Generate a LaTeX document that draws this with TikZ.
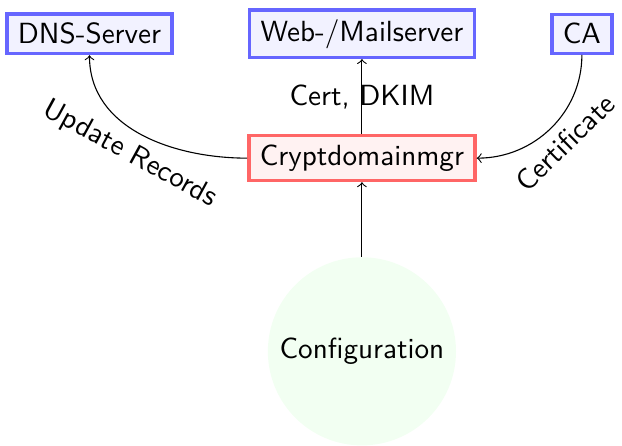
\documentclass[tikz,border=0pt]{standalone}
\usepackage{amsmath,amssymb}
\usepackage{tikz}
\usetikzlibrary{matrix}
\renewcommand{\familydefault}{\sfdefault}

\begin{document}
\begin{tikzpicture}[
		every node/.style={font=\fontsize{10.6}{12.7}\selectfont},
		server/.style={draw=blue!60,fill=blue!5,very thick,inner xsep=4pt,inner ysep=3.3pt},
		tool/.style={draw=red!60,fill=red!5,very thick,inner xsep=4pt,inner ysep=3.3pt},
		config/.style={circle,fill=green!5,minimum size=2.4cm}]
		\matrix(m)[matrix of nodes,column sep=0.94cm,row sep=0.96cm,nodes={anchor=center}]{
			|[server]| DNS-Server & |[server]| Web-/Mailserver & |[server]| CA \\
			& |[tool]| Cryptdomainmgr & \\
			& |[config]| Configuration & \\
		};
		
		\draw[->]
		(m-3-2)edge(m-2-2)
		(m-2-2)edge node{Cert, DKIM}(m-1-2)
		(m-2-2)edge[out=180,in=-90] node[sloped,below]{Update Records}(m-1-1)
		(m-1-3)edge[out=-90,in=0] node[sloped,below]{Certificate}(m-2-2);
		
		\pgfresetboundingbox
		\path[use as bounding box] (m-3-2.south) ++(-4.626,0) rectangle ++(7.95,5.70);
		\end{tikzpicture}
\end{document}
